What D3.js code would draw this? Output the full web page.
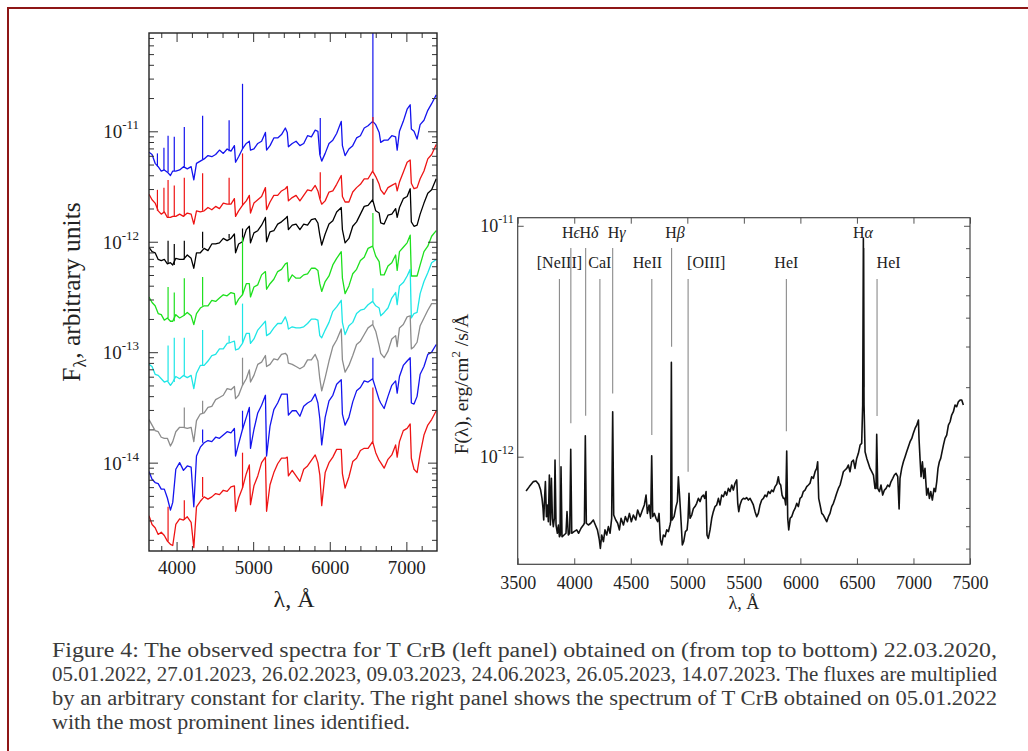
<!DOCTYPE html>
<html><head><meta charset="utf-8">
<script src="https://cdn.jsdelivr.net/npm/d3@7"></script>
<style>
body{margin:0;background:#fff;}
svg text{font-family:"Liberation Serif","Times New Roman",serif;}
</style></head><body>
<svg id="fig" width="1028" height="751"></svg>
<script>
// ---------------- DATA ----------------
// Left panel: common wavelength grid (Angstrom), log10 of flux per date (arbitrary units)
const leftWavelengths = [3640,3680,3720,3760,3800,3840,3880,3920,3950,3990,
4040,4090,4140,4190,4225,4260,4310,4360,4410,4460,
4510,4560,4610,4660,4710,4755,4770,4810,4860,4910,
4950,4965,5010,5060,5110,5160,5175,5220,5270,5320,
5370,5420,5445,5460,5510,5560,5610,5660,5710,5760,
5810,5845,5870,5895,5940,5990,6040,6090,6150,6165,
6200,6250,6300,6350,6400,6450,6500,6560,6600,6645,
6665,6710,6760,6810,6860,6880,6910,6960,7010,7050,
7065,7100,7140,7180,7230,7280,7330,7390];
const leftDates = ["22.03.2020","05.01.2022","27.01.2023","26.02.2023","09.03.2023","24.06.2023","26.05.2023","14.07.2023"];
const logF_20200322 = [-11.19,-11.21,-11.29,-11.32,-11.36,-11.35,-11.37,-11.40,-11.36,-11.36,
-11.35,-11.32,-11.34,-11.32,-11.44,-11.29,-11.27,-11.25,-11.22,-11.23,
-11.21,-11.17,-11.20,-11.16,-11.18,-11.13,-11.28,-11.23,-11.16,-11.11,
-11.09,-11.17,-11.16,-11.11,-11.09,-11.01,-11.17,-11.13,-11.06,-11.06,
-11.03,-10.97,-11.01,-11.14,-11.11,-11.09,-11.13,-11.11,-11.04,-11.05,
-10.99,-11.00,-11.21,-11.27,-11.20,-11.11,-11.08,-11.02,-10.91,-11.13,
-11.22,-11.16,-11.13,-11.06,-11.04,-10.97,-10.95,-10.91,-10.94,-11.01,
-11.10,-11.08,-11.08,-11.04,-11.05,-11.17,-11.00,-10.91,-10.80,-10.76,
-10.98,-11.00,-11.07,-10.94,-10.90,-10.81,-10.75,-10.67];
const logF_20220105 = [-11.57,-11.62,-11.65,-11.72,-11.75,-11.73,-11.78,-11.78,-11.77,-11.77,
-11.75,-11.77,-11.74,-11.75,-11.84,-11.72,-11.73,-11.72,-11.69,-11.71,
-11.68,-11.70,-11.65,-11.66,-11.66,-11.61,-11.77,-11.72,-11.67,-11.63,
-11.58,-11.74,-11.65,-11.62,-11.59,-11.51,-11.71,-11.64,-11.58,-11.58,
-11.54,-11.52,-11.50,-11.63,-11.60,-11.58,-11.63,-11.58,-11.53,-11.54,
-11.49,-11.54,-11.61,-11.66,-11.63,-11.55,-11.54,-11.48,-11.40,-11.59,
-11.64,-11.64,-11.55,-11.51,-11.48,-11.43,-11.43,-11.36,-11.41,-11.48,
-11.53,-11.57,-11.51,-11.49,-11.47,-11.54,-11.46,-11.37,-11.28,-11.26,
-11.47,-11.52,-11.51,-11.43,-11.36,-11.25,-11.21,-11.12];
const logF_20230127 = [-12.05,-12.09,-12.10,-12.16,-12.17,-12.16,-12.20,-12.19,-12.21,-12.15,
-12.16,-12.16,-12.12,-12.15,-12.24,-12.10,-12.10,-12.06,-12.08,-12.02,
-12.02,-12.01,-11.97,-11.99,-11.97,-11.93,-12.10,-12.02,-12.00,-11.89,
-11.86,-12.01,-11.92,-11.90,-11.85,-11.78,-12.00,-11.91,-11.90,-11.84,
-11.82,-11.79,-11.77,-11.89,-11.85,-11.84,-11.89,-11.84,-11.85,-11.80,
-11.79,-11.83,-11.94,-12.03,-11.93,-11.84,-11.81,-11.73,-11.69,-11.89,
-12.01,-11.97,-11.86,-11.82,-11.75,-11.68,-11.67,-11.62,-11.72,-11.74,
-11.83,-11.84,-11.76,-11.75,-11.70,-11.78,-11.69,-11.61,-11.59,-11.52,
-11.82,-11.86,-11.85,-11.75,-11.65,-11.56,-11.53,-11.43];
const logF_20230226 = [-12.50,-12.55,-12.58,-12.65,-12.66,-12.71,-12.69,-12.72,-12.72,-12.66,
-12.69,-12.67,-12.64,-12.67,-12.75,-12.65,-12.60,-12.58,-12.58,-12.53,
-12.54,-12.51,-12.48,-12.49,-12.46,-12.47,-12.57,-12.52,-12.48,-12.38,
-12.38,-12.50,-12.41,-12.39,-12.30,-12.27,-12.43,-12.38,-12.34,-12.27,
-12.25,-12.20,-12.19,-12.36,-12.30,-12.33,-12.33,-12.30,-12.29,-12.24,
-12.24,-12.26,-12.38,-12.45,-12.36,-12.31,-12.21,-12.15,-12.09,-12.33,
-12.47,-12.40,-12.29,-12.25,-12.17,-12.14,-12.06,-12.04,-12.13,-12.18,
-12.30,-12.30,-12.22,-12.19,-12.12,-12.26,-12.09,-12.05,-12.01,-11.94,
-12.31,-12.31,-12.31,-12.21,-12.09,-12.04,-11.95,-11.90];
const logF_20230309 = [-13.11,-13.13,-13.20,-13.21,-13.24,-13.27,-13.26,-13.30,-13.27,-13.22,
-13.24,-13.21,-13.23,-13.21,-13.33,-13.19,-13.12,-13.12,-13.08,-13.03,
-13.02,-12.97,-12.97,-12.92,-12.91,-12.90,-12.98,-12.97,-12.92,-12.83,
-12.83,-12.92,-12.88,-12.80,-12.76,-12.72,-12.85,-12.83,-12.78,-12.74,
-12.74,-12.68,-12.73,-12.79,-12.77,-12.78,-12.78,-12.77,-12.74,-12.70,
-12.70,-12.71,-12.85,-12.87,-12.80,-12.73,-12.63,-12.59,-12.53,-12.73,
-12.84,-12.76,-12.73,-12.65,-12.62,-12.61,-12.57,-12.54,-12.58,-12.60,
-12.67,-12.64,-12.60,-12.51,-12.46,-12.57,-12.40,-12.37,-12.31,-12.25,
-12.69,-12.65,-12.64,-12.47,-12.36,-12.28,-12.19,-12.16];
const logF_20230624 = [-13.61,-13.66,-13.71,-13.72,-13.77,-13.78,-13.78,-13.85,-13.81,-13.72,
-13.68,-13.68,-13.69,-13.68,-13.81,-13.62,-13.56,-13.55,-13.50,-13.49,
-13.43,-13.41,-13.39,-13.33,-13.34,-13.31,-13.42,-13.39,-13.30,-13.24,
-13.16,-13.27,-13.21,-13.11,-13.09,-13.03,-13.13,-13.11,-13.06,-13.07,
-13.02,-13.01,-13.03,-13.10,-13.11,-13.13,-13.15,-13.13,-13.07,-13.07,
-13.02,-13.08,-13.24,-13.35,-13.23,-13.08,-12.95,-12.89,-12.79,-13.07,
-13.18,-13.12,-13.03,-12.93,-12.90,-12.84,-12.78,-12.75,-12.81,-12.94,
-13.01,-13.05,-12.99,-12.88,-12.85,-12.95,-12.78,-12.75,-12.68,-12.67,
-12.97,-12.95,-12.91,-12.76,-12.69,-12.62,-12.56,-12.56];
const logF_20230526 = [-14.08,-14.15,-14.18,-14.19,-14.24,-14.24,-14.32,-14.43,-14.36,-14.06,
-14.00,-14.07,-14.03,-14.04,-14.40,-13.94,-13.86,-13.82,-13.80,-13.81,
-13.77,-13.78,-13.75,-13.72,-13.73,-13.69,-13.94,-13.83,-13.70,-13.59,
-13.50,-13.87,-13.70,-13.55,-13.48,-13.39,-13.94,-13.67,-13.52,-13.46,
-13.38,-13.38,-13.38,-13.57,-13.53,-13.53,-13.58,-13.49,-13.46,-13.44,
-13.38,-13.46,-13.60,-13.84,-13.59,-13.44,-13.39,-13.29,-13.25,-13.56,
-13.66,-13.59,-13.45,-13.35,-13.32,-13.26,-13.27,-13.24,-13.33,-13.43,
-13.46,-13.51,-13.40,-13.30,-13.26,-13.37,-13.22,-13.12,-13.08,-13.05,
-13.46,-13.47,-13.40,-13.20,-13.13,-13.02,-13.00,-12.93];
const logF_20230714 = [-14.48,-14.56,-14.59,-14.65,-14.63,-14.66,-14.71,-14.74,-14.75,-14.56,
-14.51,-14.52,-14.49,-14.54,-14.77,-14.40,-14.35,-14.31,-14.33,-14.31,
-14.28,-14.29,-14.25,-14.26,-14.22,-14.21,-14.44,-14.32,-14.23,-14.10,
-14.02,-14.38,-14.21,-14.12,-14.00,-13.95,-14.44,-14.20,-14.09,-14.01,
-13.96,-13.96,-13.95,-14.12,-14.07,-14.12,-14.17,-14.06,-14.03,-13.98,
-13.93,-14.00,-14.11,-14.39,-14.09,-14.00,-13.95,-13.88,-13.88,-14.10,
-14.23,-14.13,-13.99,-13.96,-13.89,-13.87,-13.87,-13.81,-13.91,-13.98,
-14.00,-14.05,-13.97,-13.93,-13.84,-13.95,-13.81,-13.71,-13.69,-13.65,
-13.96,-14.06,-14.09,-13.92,-13.75,-13.66,-13.61,-13.53];
// emission-line peaks per spectrum: [wavelength, log10 peak flux]
const peaks_20200322 = [[3750,-11.20],[3835,-11.15],[3889,-11.04],[3970,-11.05],[4101,-10.96],[4340,-10.86],[4686,-10.90],[4861,-10.57],[5876,-10.88],[6563,-10.05]];
const peaks_20220105 = [[3750,-11.53],[3835,-11.51],[3889,-11.44],[3970,-11.49],[4101,-11.42],[4340,-11.38],[4686,-11.42],[4861,-11.20],[5876,-11.37],[6563,-10.87]];
const peaks_20230127 = [[3889,-11.99],[3970,-12.02],[4101,-11.99],[4340,-11.91],[4686,-11.93],[4861,-11.88],[6563,-11.43]];
const peaks_20230226 = [[3889,-12.41],[3970,-12.46],[4101,-12.33],[4340,-12.32],[4686,-12.46],[4861,-11.96],[6563,-11.74]];
const peaks_20230309 = [[3889,-12.94],[3970,-12.87],[4101,-12.87],[4340,-12.80],[4686,-12.85],[4861,-12.56],[6563,-12.42]];
const peaks_20230624 = [[4101,-13.50],[4340,-13.44],[4861,-13.05],[6563,-12.71]];
const peaks_20230526 = [[4340,-13.70],[4861,-13.53],[6563,-13.05]];
const peaks_20230714 = [[3889,-14.40],[4101,-14.34],[4340,-14.13],[4861,-13.91],[6563,-13.32]];

const leftXTicks = [4000,5000,6000,7000];
const leftYTicks = [1e-14,1e-13,1e-12,1e-11];

// Right panel: spectrum of 05.01.2022, flux in units of 1e-12 erg/cm2/s/A
const rightWavelengths = [3574,3603,3639,3662,3686,3703,3715,3724,3730,3739,3745,3754,3762,3771,3780,3789,3798,3807,3815,3824,3830,3839,3851,3860,3869,3877,3883,3892,3910,3927,3936,3948,3960,3969,3978,3998,4022,4039,4060,4081,4090,4098,4107,4125,4146,4169,4187,4205,4222,4231,4243,4258,4272,4287,4302,4317,4331,4340,4349,4367,4384,4399,4414,4435,4452,4470,4488,4505,4523,4544,4561,4582,4603,4620,4635,4647,4662,4676,4685,4694,4709,4723,4738,4750,4762,4774,4788,4803,4818,4833,4847,4853,4859,4865,4883,4900,4912,4921,4933,4945,4956,4968,4983,4998,5006,5015,5024,5039,5054,5068,5083,5098,5113,5127,5142,5154,5166,5174,5186,5201,5216,5230,5245,5260,5275,5289,5304,5319,5334,5348,5363,5378,5393,5407,5422,5437,5446,5455,5466,5481,5496,5511,5525,5540,5555,5570,5584,5599,5614,5628,5643,5658,5673,5687,5702,5717,5732,5746,5761,5776,5791,5805,5814,5826,5838,5850,5861,5870,5879,5888,5897,5909,5923,5938,5953,5968,5982,5997,6012,6026,6041,6056,6071,6085,6100,6115,6130,6144,6153,6162,6174,6189,6203,6218,6233,6248,6262,6277,6292,6307,6321,6336,6351,6366,6380,6395,6410,6424,6439,6454,6469,6483,6498,6513,6528,6542,6551,6557,6563,6572,6587,6601,6616,6631,6646,6660,6669,6675,6684,6699,6713,6728,6743,6758,6772,6787,6802,6817,6831,6846,6861,6873,6881,6896,6911,6926,6940,6955,6970,6985,6999,7014,7029,7044,7049,7058,7067,7079,7091,7102,7117,7129,7141,7153,7167,7182,7194,7206,7217,7229,7241,7253,7265,7279,7294,7309,7324,7338,7353,7368,7382,7397,7412,7427,7441];
const rightFlux = [0.710,0.742,0.780,0.785,0.759,0.717,0.660,0.597,0.532,0.682,0.780,0.550,0.618,0.523,0.833,0.506,0.806,0.541,0.498,0.541,0.967,0.506,0.466,0.506,0.450,0.458,0.905,0.450,0.458,0.466,0.578,0.458,0.466,1.076,0.466,0.474,0.482,0.466,0.490,0.506,0.515,1.233,0.515,0.506,0.515,0.532,0.506,0.482,0.436,0.401,0.458,0.429,0.482,0.458,0.498,0.466,0.541,1.566,0.559,0.532,0.515,0.482,0.541,0.506,0.550,0.523,0.568,0.523,0.559,0.532,0.588,0.550,0.588,0.618,0.682,0.568,0.618,0.541,1.010,0.550,0.568,0.541,0.523,0.568,0.436,0.415,0.458,0.450,0.482,0.474,0.506,0.523,2.561,0.532,0.550,0.608,0.639,0.819,0.660,0.523,0.415,0.429,0.474,0.482,0.532,0.694,0.541,0.559,0.597,0.608,0.628,0.660,0.639,0.671,0.682,0.660,0.706,0.458,0.443,0.482,0.541,0.578,0.608,0.618,0.660,0.618,0.682,0.671,0.706,0.682,0.729,0.706,0.754,0.717,0.767,0.793,0.628,0.578,0.618,0.649,0.660,0.656,0.665,0.649,0.660,0.639,0.618,0.578,0.550,0.568,0.618,0.649,0.660,0.682,0.671,0.706,0.694,0.717,0.706,0.742,0.759,0.819,0.767,0.754,0.682,0.660,0.660,0.618,1.058,0.541,0.482,0.541,0.550,0.578,0.597,0.628,0.608,0.660,0.671,0.706,0.717,0.742,0.754,0.767,0.819,0.806,0.861,0.890,0.951,0.660,0.618,0.568,0.559,0.541,0.523,0.550,0.568,0.608,0.628,0.660,0.694,0.729,0.754,0.806,0.861,0.876,0.890,0.920,0.861,0.951,0.967,0.890,0.983,1.034,1.123,1.142,1.674,8.81,1.674,1.051,0.983,0.936,0.890,0.861,0.833,0.729,0.729,1.249,0.729,0.706,0.754,0.682,0.717,0.729,0.754,0.742,0.780,0.806,0.833,0.847,0.819,0.594,0.806,0.890,0.951,1.000,1.051,1.105,1.161,1.200,1.262,1.326,1.371,1.441,1.200,0.983,0.819,0.951,0.806,0.890,0.682,0.729,0.660,0.706,0.649,0.729,0.706,0.780,0.890,0.951,0.983,1.051,1.123,1.200,1.241,1.371,1.417,1.515,1.566,1.674,1.646,1.730,1.759,1.759,1.674];
const FLUX_UNIT = 1e-12;
const rightXTicks = [3500,4000,4500,5000,5500,6000,6500,7000,7500];
const rightYTicks = [1e-12,1e-11];
const rightYMinor = [4e-13,5e-13,6e-13,8e-13,2e-12,3e-12,4e-12,5e-12,6e-12,8e-12];

// Identified lines
const lineNames = ["[NeIII]","Hϵ","Hδ","CaI","Hγ","HeII","Hβ","[OIII]","HeI","Hα","HeI"];
const lineWavelengths = [3869,3970,4101,4227,4340,4686,4861,5007,5876,6563,6678];
const lineLabelWavelengths = [3869,3971,4130,4227,4375,4647,4891,5167,5876,6554,6780];
const lineLabelRows = [2,1,1,2,1,2,1,2,2,1,2];
const lineBottomFlux = [0.458,1.395,1.504,0.445,1.88,1.24,2.99,0.86,1.29,2.0,1.50];

const captionLines = [
 "Figure 4:  The observed spectra for T CrB (left panel) obtained on (from top to bottom) 22.03.2020,",
 "05.01.2022, 27.01.2023, 26.02.2023, 09.03.2023, 24.06.2023, 26.05.2023, 14.07.2023. The fluxes are multiplied",
 "by an arbitrary constant for clarity. The right panel shows the spectrum of T CrB obtained on 05.01.2022",
 "with the most prominent lines identified."
];

// ---------------- DRAWING ----------------
const SERIF = "Liberation Serif, Times New Roman, serif";
const svg = d3.select("#fig");
const leftSeries = [logF_20200322,logF_20220105,logF_20230127,logF_20230226,logF_20230309,logF_20230624,logF_20230526,logF_20230714];
const leftPeaks = [peaks_20200322,peaks_20220105,peaks_20230127,peaks_20230226,peaks_20230309,peaks_20230624,peaks_20230526,peaks_20230714];
const leftColors = ["#1414ee","#ee1414","#000000","#1ee01e","#1ee6e6","#8c8c8c","#1414ee","#ee1414"];

// page frame
svg.append("path").attr("d","M8,751 V8 H1028").attr("fill","none").attr("stroke","#8e1616").attr("stroke-width",2);

const defs = svg.append("defs");
function superLabel(g, x, y, exp, size, supSize, dy, anchor){
  const t = g.append("text").attr("x",x).attr("y",y).attr("text-anchor",anchor||"end")
    .attr("font-family",SERIF).attr("font-size",size).attr("fill","#222");
  t.append("tspan").text("10");
  t.append("tspan").attr("dy",-dy).attr("font-size",supSize).text(exp);
  return t;
}

// ===== LEFT PANEL =====
const L = {x0:149, x1:437, y0:33, y1:551};
const xL = d3.scaleLinear().domain([3640,7400]).range([L.x0,L.x1]);
const yL = d3.scaleLog().domain([Math.pow(10,-14.80), Math.pow(10,-10.11)]).range([L.y1,L.y0]);
defs.append("clipPath").attr("id","clipL").append("rect")
  .attr("x",L.x0).attr("y",L.y0).attr("width",L.x1-L.x0).attr("height",L.y1-L.y0);
const gL = svg.append("g");
const plotL = gL.append("g").attr("clip-path","url(#clipL)");
const lineL = d3.line().x(d=>xL(d[0])).y(d=>yL(Math.pow(10,d[1])));
leftSeries.forEach((vals,k)=>{
  const pts = leftWavelengths.map((w,i)=>[w, vals[i]]);
  plotL.append("path").datum(pts).attr("d",lineL).attr("fill","none")
    .attr("stroke",leftColors[k]).attr("stroke-width",1.3).attr("stroke-linejoin","round");
  leftPeaks[k].forEach(p=>{
    const i = d3.minIndex(leftWavelengths, w=>Math.abs(w-p[0]));
    plotL.append("line").attr("x1",xL(p[0])).attr("x2",xL(p[0]))
      .attr("y1",yL(Math.pow(10,vals[i]))).attr("y2",yL(Math.pow(10,p[1])))
      .attr("stroke",leftColors[k]).attr("stroke-width",1.2);
  });
});
// minor tick values
const leftXMinor = d3.range(3800,7400,200).filter(v=>!leftXTicks.includes(v));
const leftYMinor = [];
for(let e=-15;e<=-11;e++) for(let m=2;m<=9;m++){const v=m*Math.pow(10,e); if(v>yL.domain()[0] && v<yL.domain()[1]) leftYMinor.push(v);}
function cleanAxis(g){ g.select(".domain").remove(); g.selectAll("line").attr("stroke","#333").attr("stroke-width",1); }
gL.append("g").attr("transform",`translate(0,${L.y1})`)
  .call(d3.axisBottom(xL).tickValues(leftXTicks).tickSize(-9).tickSizeOuter(0).tickPadding(10).tickFormat(d3.format("d")))
  .call(cleanAxis).call(g=>g.selectAll("text").attr("font-size",19).attr("fill","#222").attr("font-family",SERIF));
gL.append("g").attr("transform",`translate(0,${L.y1})`)
  .call(d3.axisBottom(xL).tickValues(leftXMinor).tickSize(-5).tickSizeOuter(0).tickFormat("")).call(cleanAxis);
gL.append("g").attr("transform",`translate(0,${L.y0})`)
  .call(d3.axisTop(xL).tickValues(leftXTicks).tickSize(-9).tickSizeOuter(0).tickFormat("")).call(cleanAxis);
gL.append("g").attr("transform",`translate(0,${L.y0})`)
  .call(d3.axisTop(xL).tickValues(leftXMinor).tickSize(-5).tickSizeOuter(0).tickFormat("")).call(cleanAxis);
[[d3.axisLeft, L.x0],[d3.axisRight, L.x1]].forEach(([ax,x])=>{
  gL.append("g").attr("transform",`translate(${x},0)`)
    .call(ax(yL).tickValues(leftYTicks).tickSize(-9).tickSizeOuter(0).tickFormat("")).call(cleanAxis);
  gL.append("g").attr("transform",`translate(${x},0)`)
    .call(ax(yL).tickValues(leftYMinor).tickSize(-5).tickSizeOuter(0).tickFormat("")).call(cleanAxis);
});
leftYTicks.forEach(v=>{
  superLabel(gL, L.x0-10, yL(v)+7, "-"+String(-Math.round(Math.log10(v))), 19, 13, 9);
});
gL.append("rect").attr("x",L.x0).attr("y",L.y0).attr("width",L.x1-L.x0).attr("height",L.y1-L.y0)
  .attr("fill","none").attr("stroke","#222").attr("stroke-width",1.4);
gL.append("text").attr("x",(L.x0+L.x1)/2+1).attr("y",607).attr("text-anchor","middle")
  .attr("font-family",SERIF).attr("font-size",24).attr("fill","#222").text("λ, Å");
const yLab = gL.append("text").attr("transform","translate(80,292) rotate(-90)").attr("text-anchor","middle")
  .attr("font-family",SERIF).attr("font-size",25.5).attr("fill","#222");
yLab.append("tspan").text("F");
yLab.append("tspan").attr("font-size",18).attr("dy",6).text("λ");
yLab.append("tspan").attr("dy",-6).text(", arbitrary units");

// ===== RIGHT PANEL =====
const R = {x0:517.7, x1:970, y0:217.7, y1:564.3};
const xR = d3.scaleLinear().domain([3500,7500]).range([R.x0,R.x1]);
const yR = d3.scaleLog().domain([Math.pow(10,-12.466), Math.pow(10,-10.965)]).range([R.y1,R.y0]);
defs.append("clipPath").attr("id","clipR").append("rect")
  .attr("x",R.x0).attr("y",R.y0).attr("width",R.x1-R.x0).attr("height",R.y1-R.y0);
const gR = svg.append("g");
// annotation lines
const rowBase = {1:238, 2:268};
const rowLineTop = {1:248, 2:279};
lineWavelengths.forEach((w,i)=>{
  gR.append("line").attr("x1",xR(w)).attr("x2",xR(w))
    .attr("y1",rowLineTop[lineLabelRows[i]]).attr("y2",yR(lineBottomFlux[i]*FLUX_UNIT))
    .attr("stroke","#8a8a8a").attr("stroke-width",1.1);
  const t = gR.append("text").attr("x",xR(lineLabelWavelengths[i])).attr("y",rowBase[lineLabelRows[i]])
    .attr("text-anchor","middle").attr("font-family",SERIF).attr("font-size",16).attr("fill","#222");
  const nm = lineNames[i];
  if(/^H[^a-zA-Z]$/.test(nm)){
    t.append("tspan").text("H");
    t.append("tspan").attr("font-style","italic").text(nm.slice(1));
  } else t.text(nm);
});
const plotR = gR.append("g").attr("clip-path","url(#clipR)");
const lineR = d3.line().x(d=>xR(d[0])).y(d=>yR(d[1]*FLUX_UNIT));
plotR.append("path").datum(rightWavelengths.map((w,i)=>[w,rightFlux[i]])).attr("d",lineR)
  .attr("fill","none").attr("stroke","#111").attr("stroke-width",1.6).attr("stroke-linejoin","round");
function cleanAxisR(g){ g.select(".domain").remove(); g.selectAll("line").attr("stroke","#555").attr("stroke-width",1); }
gR.append("g").attr("transform",`translate(0,${R.y1})`)
  .call(d3.axisBottom(xR).tickValues(rightXTicks).tickSize(-6).tickSizeOuter(0).tickPadding(12).tickFormat(d3.format("d")))
  .call(cleanAxisR).call(g=>g.selectAll("text").attr("font-size",18).attr("fill","#222").attr("font-family",SERIF));
gR.append("g").attr("transform",`translate(0,${R.y0})`)
  .call(d3.axisTop(xR).tickValues(rightXTicks).tickSize(-6).tickSizeOuter(0).tickFormat("")).call(cleanAxisR);
[[d3.axisLeft,R.x0],[d3.axisRight,R.x1]].forEach(([ax,x])=>{
  gR.append("g").attr("transform",`translate(${x},0)`)
    .call(ax(yR).tickValues(rightYTicks).tickSize(-6).tickSizeOuter(0).tickFormat("")).call(cleanAxisR);
});
gR.append("g").attr("transform",`translate(${R.x1},0)`)
  .call(d3.axisRight(yR).tickValues(rightYMinor).tickSize(-4).tickSizeOuter(0).tickFormat("")).call(cleanAxisR);
rightYTicks.forEach(v=>{
  superLabel(gR, R.x0-4, yR(v)+6, "-"+String(-Math.round(Math.log10(v))), 18, 12, 9);
});
gR.append("rect").attr("x",R.x0).attr("y",R.y0).attr("width",R.x1-R.x0).attr("height",R.y1-R.y0)
  .attr("fill","none").attr("stroke","#444").attr("stroke-width",1.2);
gR.append("text").attr("x",(R.x0+R.x1)/2).attr("y",609).attr("text-anchor","middle")
  .attr("font-family",SERIF).attr("font-size",18).attr("fill","#222").text("λ, Å");
const yLabR = gR.append("text").attr("transform","translate(468,384) rotate(-90)").attr("text-anchor","middle")
  .attr("font-family",SERIF).attr("font-size",19.5).attr("fill","#222");
yLabR.append("tspan").text("F(λ), erg/cm");
yLabR.append("tspan").attr("dy",-8).attr("font-size",13).text("2");
yLabR.append("tspan").attr("dy",8).text(" /s/Å");

// ===== CAPTION =====
const capBase = [657,681,705,729];
const capWidths = [945,945,945,358];
captionLines.forEach((s,i)=>{
  svg.append("text").attr("x",52).attr("y",capBase[i]).attr("font-family",SERIF).attr("font-size",20).attr("fill","#3a3a3a")
    .attr("textLength",capWidths[i]).attr("lengthAdjust","spacingAndGlyphs").text(s);
});
</script>
</body></html>
